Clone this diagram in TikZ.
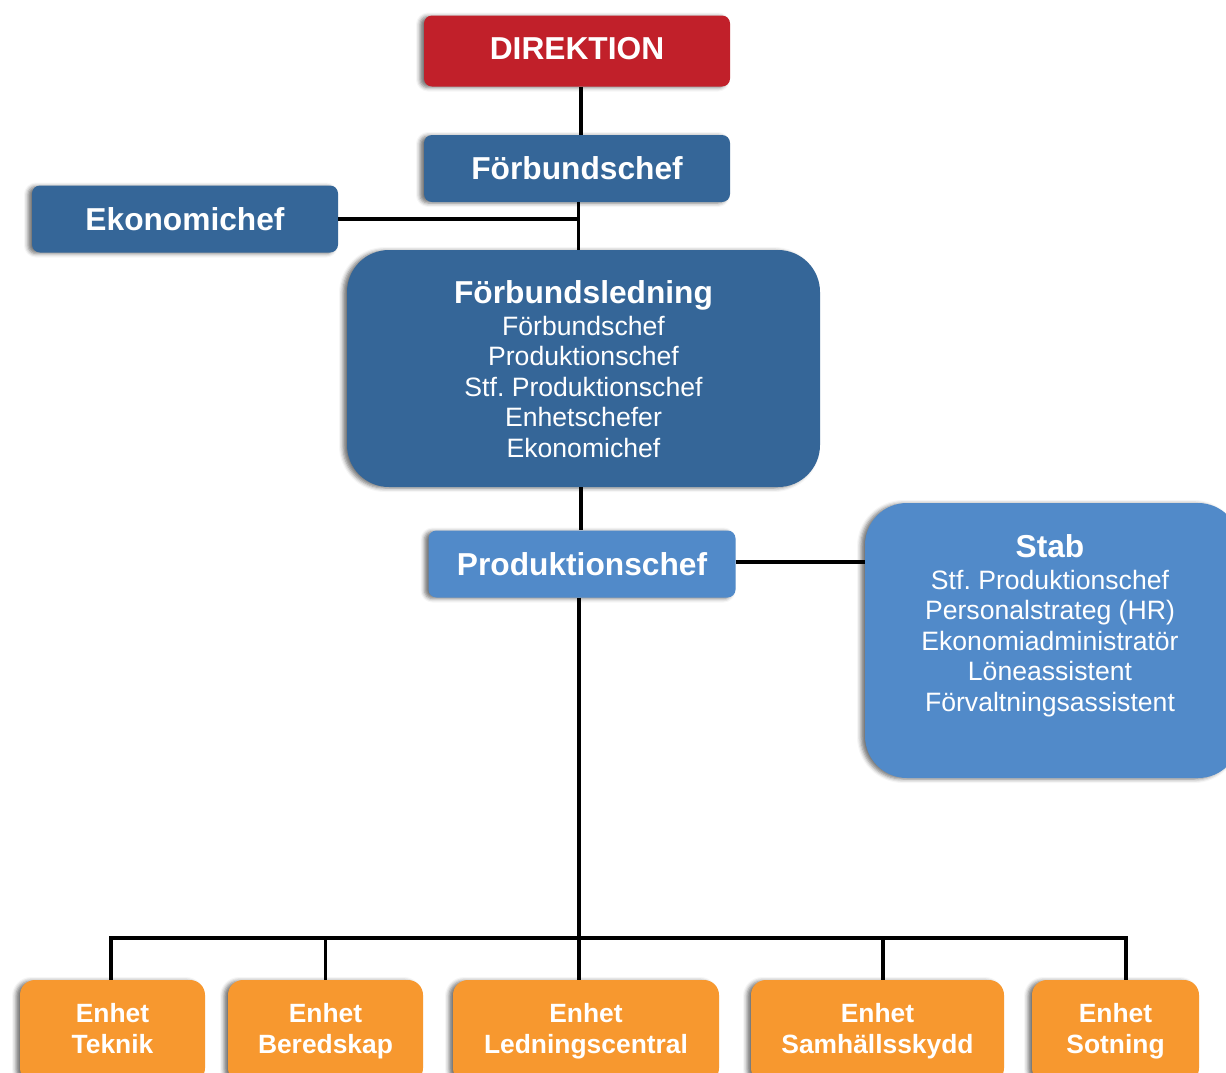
\documentclass[tikz,border=0pt]{standalone}
\usepackage{fontspec}
\setmainfont{Liberation Sans}
\usetikzlibrary{shadows.blur}
\definecolor{dred}{HTML}{C1202A}
\definecolor{dblue}{HTML}{356698}
\definecolor{lblue}{HTML}{518AC9}
\definecolor{orng}{HTML}{F7982F}
\frenchspacing
\begin{document}
\begin{tikzpicture}[x=1pt,y=-1pt,
  shad/.style={blur shadow={shadow xshift=-4pt, shadow yshift=-1pt, shadow blur radius=4pt, shadow opacity=55}},
  box/.style={shad, rectangle, rounded corners=8pt, text=white, inner sep=0pt, align=center,
    font=\bfseries\fontsize{31.7}{36}\selectfont},
  bigbox/.style={shad, rectangle, rounded corners=42pt, inner sep=0pt},
  unit/.style={shad, rectangle, rounded corners=15pt, fill=orng, text=white, inner sep=0pt, align=center,
    minimum height=103pt, font=\bfseries\fontsize{26.4}{31}\selectfont},
  conn/.style={line width=3.3pt, black}]
\useasboundingbox (0,0) rectangle (1226,1072);

\node[box, fill=dred, minimum width=306pt, minimum height=71pt] (dir) at (577,51) {\raisebox{0pt}[22.7pt][6pt]{DIREKTION}};
\node[box, fill=dblue, minimum width=306pt, minimum height=67pt] (fchef) at (577,168.5) {Förbundschef};
\node[box, fill=dblue, minimum width=306pt, minimum height=67pt] (eko) at (185,219) {Ekonomichef};
\node[bigbox, fill=dblue, minimum width=473pt, minimum height=237pt] (fled) at (583.5,368.5) {};
\node[text=white, align=center, inner sep=0pt, font=\fontsize{26.6}{30.5}\selectfont] (fledtext) at (583.5,369)
  {{\bfseries\fontsize{31.7}{36}\selectfont Förbundsledning}\\[1.5pt]
   Förbundschef\\ Produktionschef\\ Stf. Produktionschef\\ Enhetschefer\\ Ekonomichef};
\node[box, fill=lblue, minimum width=307pt, minimum height=67pt] (prod) at (582,564) {Produktionschef};
\node[bigbox, fill=lblue, minimum width=375pt, minimum height=275pt] (stab) at (1052.5,640.5) {};
\node[text=white, align=center, inner sep=0pt, font=\fontsize{26.6}{30.5}\selectfont] (stabtext) at (1050,626)
  {{\bfseries\fontsize{31.7}{36}\selectfont Stab}\\[1pt]
   Stf. Produktionschef\\ Personalstrateg (HR)\\ Ekonomiadministratör\\ Löneassistent\\ Förvaltningsassistent};

\node[unit, minimum width=185pt] (teknik) at (112.5,1031.5) {Enhet\\Teknik\vphantom{g}};
\node[unit, minimum width=195pt] (bered) at (325.5,1031.5) {Enhet\\Beredskap};
\node[unit, minimum width=266pt] (ledn) at (586,1031.5) {Enhet\\Ledningscentral};
\node[unit, minimum width=253pt] (samh) at (877.5,1031.5) {Enhet\\Samhällsskydd};
\node[unit, minimum width=167pt] (sot) at (1115.5,1031.5) {Enhet\\Sotning};

\coordinate (busL) at (111,938);
\coordinate (busR) at (1126,938);

\draw[conn] ([xshift=4pt]dir.south) -- ([xshift=4pt]fchef.north);
\draw[conn] ([xshift=1.5pt]fchef.south) -- ([xshift=1.5pt]fchef.south |- fled.north);
\draw[conn] (eko.east) -- ([xshift=1.5pt]fchef.south |- eko.east);
\draw[conn] ([xshift=-2.5pt]fled.south) -- ([xshift=-2.5pt]fled.south |- prod.north);
\draw[conn] ([yshift=2pt]prod.east) -- ([yshift=2pt]prod.east -| stab.west);
\draw[conn] ([xshift=-3pt]prod.south) -- ([xshift=-3pt]prod.south |- ledn.north);
\draw[conn, line cap=rect] (busL) -- (busR);
\draw[conn] (busL) -- (busL |- teknik.north);
\draw[conn] (bered.north |- busL) -- (bered.north);
\draw[conn] ([xshift=5.5pt]samh.north |- busL) -- ([xshift=5.5pt]samh.north);
\draw[conn] (busR) -- (busR |- sot.north);
\end{tikzpicture}
\end{document}
